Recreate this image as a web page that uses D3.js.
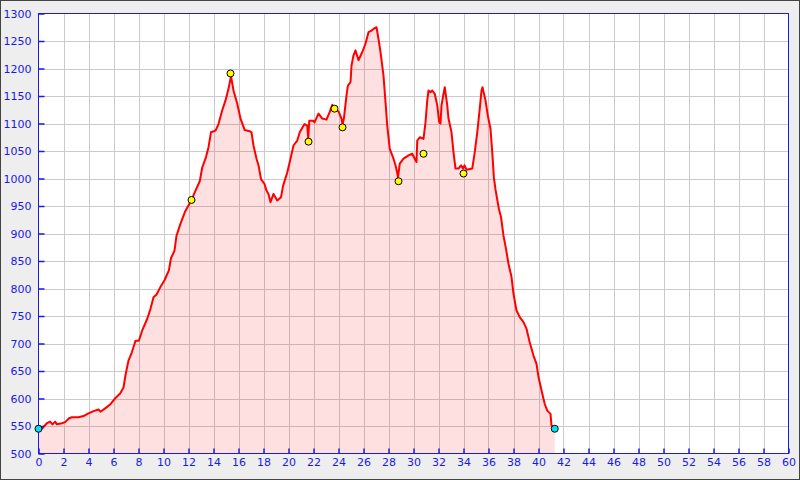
<!DOCTYPE html>
<html><head><meta charset="utf-8">
<script src="https://cdn.jsdelivr.net/npm/d3@7"></script>
<style>html,body{margin:0;padding:0;background:#eeeeee;}svg{display:block;}</style>
</head><body>
<svg id="c" width="800" height="480"></svg>
<script>
const distanceKm = [0,0.27,0.67,0.93,1.12,1.33,1.47,1.87,2.13,2.45,2.67,3.2,3.6,4.0,4.4,4.8,4.96,5.33,5.73,6.08,6.53,6.8,6.98,7.2,7.47,7.76,8.03,8.3,8.7,8.96,9.2,9.44,9.76,10.08,10.43,10.6,10.88,11.04,11.36,11.71,12.24,12.56,12.9,13.1,13.4,13.6,13.8,14.16,14.4,14.7,14.96,15.2,15.4,15.6,15.9,16.16,16.5,16.9,17.04,17.2,17.44,17.6,17.8,18.08,18.24,18.4,18.56,18.8,19.1,19.4,19.57,19.9,20.16,20.4,20.7,20.9,21.28,21.5,21.58,21.66,21.97,22.08,22.4,22.7,23.04,23.3,23.5,23.7,24.02,24.24,24.32,24.43,24.64,24.75,24.96,25.04,25.2,25.36,25.6,25.9,26.16,26.4,26.64,26.8,27.04,27.2,27.36,27.6,27.76,27.9,28.1,28.4,28.56,28.7,28.76,28.9,29.2,29.6,29.9,30.1,30.24,30.3,30.5,30.8,30.96,31.1,31.2,31.36,31.5,31.7,31.9,32.06,32.16,32.24,32.4,32.5,32.7,32.8,33.04,33.2,33.36,33.6,33.8,33.96,34.08,34.24,34.7,34.9,35.1,35.3,35.44,35.52,35.76,35.94,36.16,36.3,36.43,36.56,36.83,37.0,37.2,37.4,37.6,37.84,38.0,38.24,38.5,38.8,39.04,39.3,39.6,39.84,40.0,40.3,40.5,40.7,40.96,41.04,41.3];
const elevationM = [545,545,555,558,553,558,553,555,557,564,566,566,568,573,577,580,576,582,589,599,609,620,645,669,684,705,705,724,745,763,784,789,803,815,833,855,869,896,918,939,961,978,995,1020,1039,1057,1084,1087,1099,1124,1142,1163,1186,1160,1136,1109,1088,1086,1084,1060,1036,1024,999,990,978,972,957,972,960,966,987,1011,1036,1060,1069,1084,1099,1096,1072,1105,1105,1102,1118,1109,1107,1121,1134,1129,1121,1109,1098,1109,1151,1169,1175,1205,1224,1233,1215,1230,1245,1266,1269,1272,1275,1254,1230,1187,1139,1096,1054,1036,1024,1010,1002,1027,1036,1042,1045,1036,1030,1069,1075,1072,1102,1142,1160,1157,1160,1154,1133,1102,1100,1133,1154,1166,1133,1109,1084,1048,1018,1018,1024,1018,1024,1016,1018,1048,1084,1127,1160,1166,1142,1115,1090,1048,1002,980,945,930,896,872,845,821,790,760,748,739,727,702,678,663,639,609,590,578,572,551,546];
const waypointKm = [12.24,15.36,21.6,23.68,24.32,28.8,30.8,34.0];
const waypointElev = [961,1191,1067,1127,1093,995,1045,1009];
const endpointKm = [0,41.3];
const endpointElev = [545,545];
const xTicks = d3.range(0,61,2);
const yTicks = d3.range(500,1301,50);

const svg = d3.select("#c");
const L=38.5, R=788.5, T=13.5, B=453.5;
const x = d3.scaleLinear().domain([0,60]).range([L,R]);
const y = d3.scaleLinear().domain([500,1300]).range([B,T]);
const blue = "#1a1ae6";

svg.append("rect").attr("x",0.5).attr("y",0.5).attr("width",799).attr("height",479)
  .attr("fill","#eeeeee").attr("stroke","#444").attr("stroke-width",1);
svg.append("rect").attr("x",L).attr("y",T).attr("width",R-L).attr("height",B-T).attr("fill","#fff");

// grid
const g = svg.append("g").attr("stroke","#cbcbcb").attr("stroke-width",1);
g.selectAll("line.v").data(xTicks.slice(1,-1)).join("line")
  .attr("x1",d=>Math.round(x(d))+0.5).attr("x2",d=>Math.round(x(d))+0.5).attr("y1",T).attr("y2",B);
g.selectAll("line.h").data(yTicks.slice(1,-1)).join("line")
  .attr("y1",d=>Math.round(y(d))+0.5).attr("y2",d=>Math.round(y(d))+0.5).attr("x1",L).attr("x2",R);

const pts = distanceKm.map((d,i)=>[d,elevationM[i]]);
svg.append("path").datum(pts)
  .attr("d", d3.area().x(d=>x(d[0])).y0(y(500)).y1(d=>y(d[1])))
  .attr("fill","rgba(255,0,0,0.12)");
svg.append("path").datum(pts)
  .attr("d", d3.line().x(d=>x(d[0])).y(d=>y(d[1])))
  .attr("fill","none").attr("stroke","#ff0000").attr("stroke-width",2).attr("stroke-linejoin","round");

// frame
svg.append("rect").attr("x",L).attr("y",T).attr("width",R-L).attr("height",B-T)
  .attr("fill","none").attr("stroke",blue).attr("stroke-width",1);

// axes
const yAxis = d3.axisLeft(y).tickValues(yTicks).tickSize(-6).tickPadding(7).tickFormat(d3.format("d"));
const ya = svg.append("g").attr("transform",`translate(${L},0)`).call(yAxis);
const xAxis = d3.axisBottom(x).tickValues(xTicks).tickSize(-5).tickPadding(5).tickFormat(d3.format("d"));
const xa = svg.append("g").attr("transform",`translate(0,${B})`).call(xAxis);
[ya,xa].forEach(a=>{
  a.select(".domain").remove();
  a.selectAll(".tick line").attr("stroke",blue).attr("stroke-width",1.5);
  a.selectAll("text").attr("fill",blue).style("font-family","DejaVu Sans").style("font-size","11px");
});

// markers
svg.append("g").selectAll("circle").data(waypointKm.map((d,i)=>[d,waypointElev[i]])).join("circle")
  .attr("cx",d=>x(d[0])).attr("cy",d=>y(d[1])).attr("r",3.5)
  .attr("fill","#ffff00").attr("stroke","#000").attr("stroke-width",1);
svg.append("g").selectAll("circle").data(endpointKm.map((d,i)=>[d,endpointElev[i]])).join("circle")
  .attr("cx",d=>x(d[0])).attr("cy",d=>y(d[1])).attr("r",3.5)
  .attr("fill","#00e5ee").attr("stroke","#000").attr("stroke-width",1);
</script>
</body></html>
